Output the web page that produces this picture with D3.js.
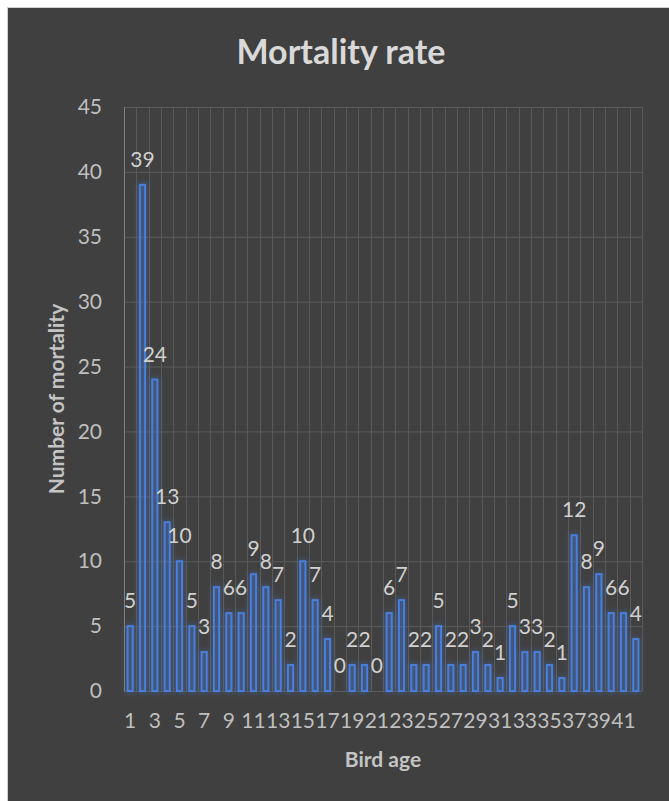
<!DOCTYPE html>
<html>
<head>
<meta charset="utf-8">
<script src="https://cdn.jsdelivr.net/npm/d3@7/dist/d3.min.js"></script>
<style>
  html, body { margin: 0; padding: 0; background: #ffffff; }
  svg { display: block; font-family: Lato, "Open Sans", "DejaVu Sans", sans-serif; }
</style>
</head>
<body>
<svg id="chart" width="669" height="801"></svg>
<script>
// Bird age (days) and number of birds lost at each age
const ages = [1,2,3,4,5,6,7,8,9,10,11,12,13,14,15,16,17,18,19,20,21,
              22,23,24,25,26,27,28,29,30,31,32,33,34,35,36,37,38,39,40,41,42];
const mortality = [5,39,24,13,10,5,3,8,6,6,9,8,7,2,10,7,4,0,2,2,0,
                   6,7,2,2,5,2,2,3,2,1,5,3,3,2,1,12,8,9,6,6,4];
const yTicks = [0,5,10,15,20,25,30,35,40,45];
const xTickLabels = [1,3,5,7,9,11,13,15,17,19,21,23,25,27,29,31,33,35,37,39,41];

const titleText = "Mortality rate";
const xTitle = "Bird age";
const yTitle = "Number of mortality";

const svg = d3.select("#chart");
const W = 669, H = 801;
const plot = { left: 124, right: 642, top: 107, bottom: 691 };

// Chart panel
svg.append("rect")
  .attr("x", 7.5).attr("y", 7.5)
  .attr("width", W).attr("height", H)
  .attr("fill", "#404040")
  .attr("stroke", "#d0d0d0").attr("stroke-width", 1);

// Soft blue glow around the bars
const defs = svg.append("defs");
const glow = defs.append("filter").attr("id", "glow")
  .attr("x", "-200%").attr("y", "-20%").attr("width", "500%").attr("height", "140%");
glow.append("feGaussianBlur").attr("in", "SourceGraphic").attr("stdDeviation", 3).attr("result", "blur");
glow.append("feComponentTransfer").attr("in", "blur").attr("result", "soft")
  .append("feFuncA").attr("type", "linear").attr("slope", 0.7);
const merge = glow.append("feMerge");
merge.append("feMergeNode").attr("in", "soft");
merge.append("feMergeNode").attr("in", "SourceGraphic");

const x = d3.scaleBand().domain(ages).range([plot.left, plot.right]).paddingInner(0).paddingOuter(0);
const y = d3.scaleLinear().domain([0, 45]).range([plot.bottom, plot.top]);

const gridColor = "#5a5a5a";

// Horizontal gridlines + y tick labels
const yAxis = svg.append("g")
  .attr("transform", `translate(${plot.left},0)`)
  .call(d3.axisLeft(y).tickValues(yTicks).tickSize(-(plot.right - plot.left)).tickPadding(22));
yAxis.select(".domain").remove();
yAxis.selectAll(".tick line").attr("stroke", gridColor).attr("stroke-width", 1);
yAxis.selectAll(".tick text")
  .attr("fill", "#bfbfbf").attr("font-size", 21).attr("font-family", "Lato, sans-serif");

// Vertical gridlines at every category boundary
const boundaries = ages.map(a => x(a)).concat([plot.right]);
svg.append("g").selectAll("line").data(boundaries).join("line")
  .attr("x1", d => Math.round(d) + 0.5).attr("x2", d => Math.round(d) + 0.5)
  .attr("y1", plot.top).attr("y2", plot.bottom)
  .attr("stroke", gridColor).attr("stroke-width", 1);

// Left axis line
svg.append("line")
  .attr("x1", plot.left + 0.5).attr("x2", plot.left + 0.5)
  .attr("y1", plot.top).attr("y2", plot.bottom)
  .attr("stroke", "#7f7f7f").attr("stroke-width", 1);

// X axis labels (every other age)
const xAxis = svg.append("g")
  .attr("transform", `translate(0,${plot.bottom})`)
  .call(d3.axisBottom(x).tickValues(xTickLabels).tickSize(0).tickPadding(22));
xAxis.select(".domain").remove();
xAxis.selectAll(".tick text")
  .attr("fill", "#bfbfbf").attr("font-size", 21).attr("font-family", "Lato, sans-serif");

// Bars
const barW = x.bandwidth() * 0.5;
svg.append("g").attr("filter", "url(#glow)")
  .selectAll("rect").data(mortality).join("rect")
  .attr("x", (d, i) => x(ages[i]) + (x.bandwidth() - barW) / 2 + 0.5)
  .attr("y", d => y(d))
  .attr("width", barW - 1)
  .attr("height", d => Math.max(0, y(0) - y(d)))
  .attr("fill", "rgba(68,114,196,0.15)")
  .attr("stroke", "#4a7fdc").attr("stroke-width", 2);

// Value labels
svg.append("g").selectAll("text").data(mortality).join("text")
  .attr("x", (d, i) => x(ages[i]) + x.bandwidth() / 2)
  .attr("y", d => y(d) - 18)
  .attr("text-anchor", "middle")
  .attr("fill", "#d0d0d0").attr("font-size", 21)
  .text(d => d);

// Title
svg.append("text")
  .attr("x", 341).attr("y", 64)
  .attr("text-anchor", "middle")
  .attr("fill", "#d9d9d9").attr("font-size", 34).attr("font-weight", "bold")
  .text(titleText);

// Axis titles
svg.append("text")
  .attr("x", (plot.left + plot.right) / 2).attr("y", 767)
  .attr("text-anchor", "middle")
  .attr("fill", "#c4c4c4").attr("font-size", 21).attr("font-weight", "bold")
  .text(xTitle);

svg.append("text")
  .attr("transform", `translate(64,${(plot.top + plot.bottom) / 2}) rotate(-90)`)
  .attr("text-anchor", "middle")
  .attr("fill", "#c4c4c4").attr("font-size", 21).attr("font-weight", "bold")
  .text(yTitle);
</script>
</body>
</html>
